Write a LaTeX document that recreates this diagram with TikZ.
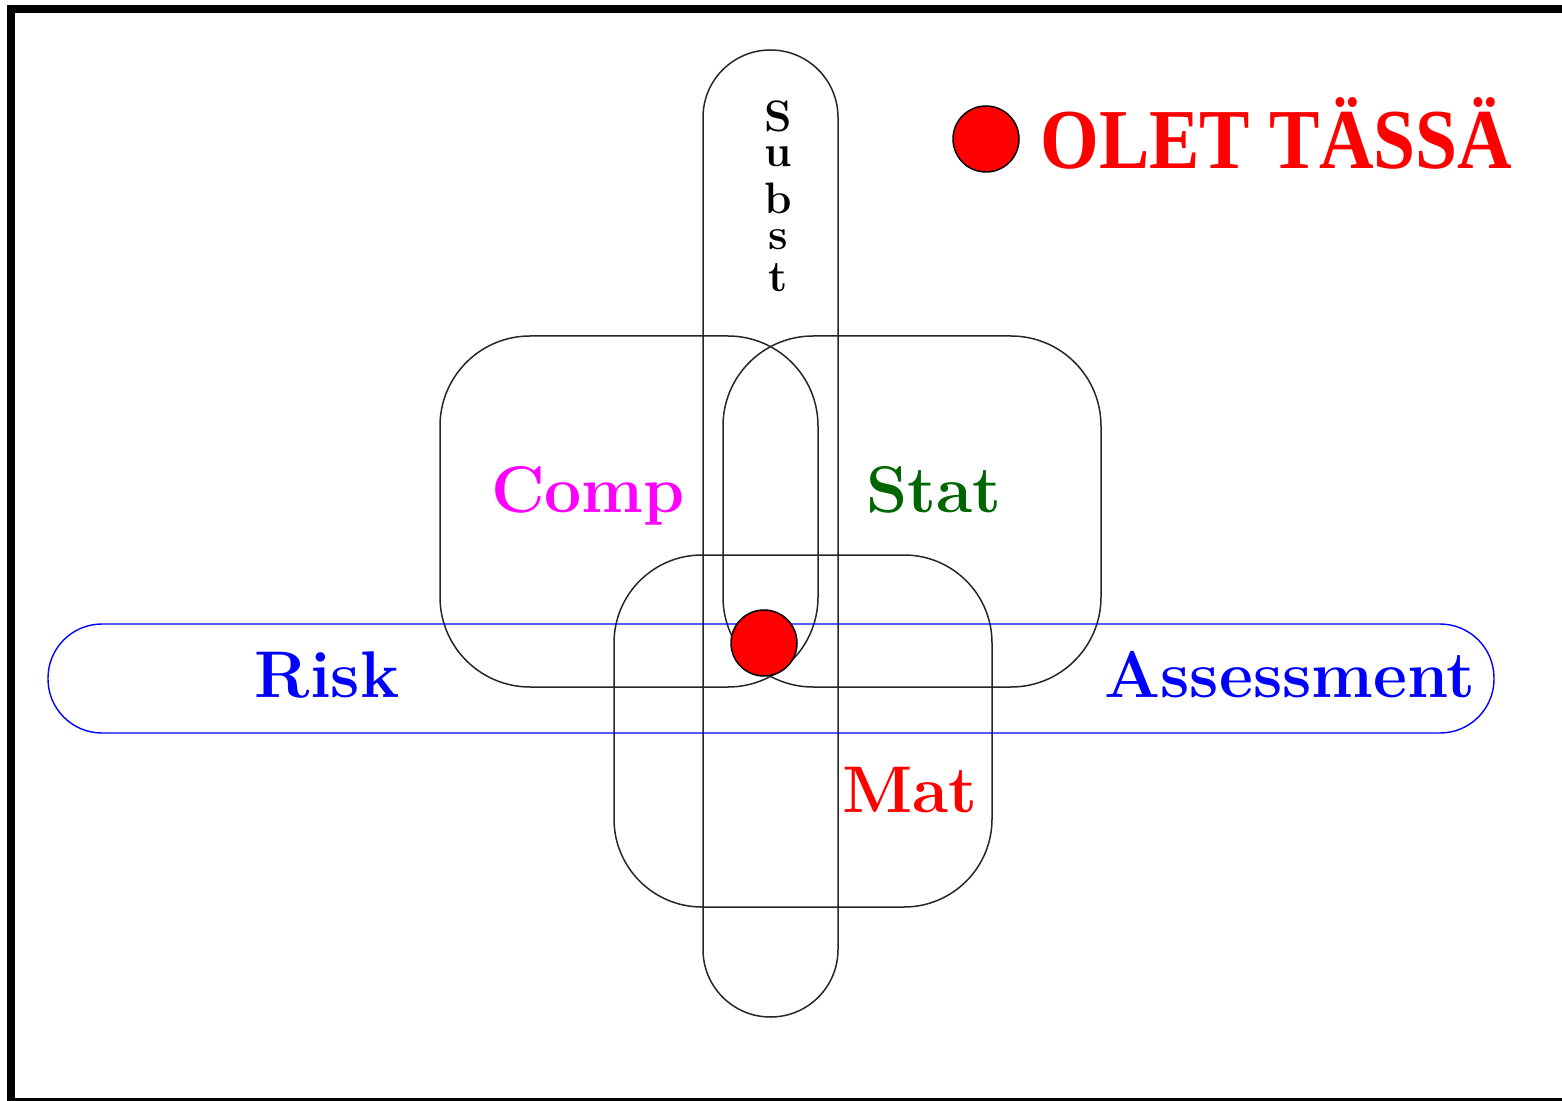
\documentclass[tikz,border=0pt]{standalone}
\usepackage{fontspec}
\newfontfamily\stencilfont{Liberation Serif}
\definecolor{statgreen}{rgb}{0,0.4,0}
\definecolor{compmagenta}{rgb}{1,0,1}
\definecolor{pureblue}{rgb}{0,0,1}
\definecolor{purered}{rgb}{1,0,0}
\begin{document}
\begin{tikzpicture}[x=0.5pt,y=-0.5pt,
  setbox/.style={draw=black!85,line width=0.75pt},
  riskbox/.style={draw=pureblue,line width=0.7pt,rounded corners=27pt},
  biglabel/.style={font=\fontsize{33}{39}\selectfont\bfseries,anchor=base,inner sep=0pt},
  substletter/.style={font=\fontsize{22}{26}\selectfont\bfseries,anchor=base,inner sep=0pt},
  reddot/.style={circle,draw=black,fill=purered,line width=0.75pt,minimum size=33pt,inner sep=0pt}]
\useasboundingbox (0,0) rectangle (1562,1101);
\clip (0,0) rectangle (1562,1101);
% frame
\draw[line width=4pt] (11,9) rectangle (1600,1102);
% sets
\draw[setbox,rounded corners=45pt] (440,336) rectangle (818,687);
\draw[setbox,rounded corners=45pt] (723,336) rectangle (1101,687);
\draw[setbox,rounded corners=44pt] (614,555) rectangle (992,907);
\draw[setbox,rounded corners=33.7pt] (703,50) rectangle (838,1017);
\draw[riskbox] (48,624) rectangle (1494,733);
% marker
\node[reddot] (here) at (764,643) {};
% labels
\node[biglabel,text=compmagenta] (comp) at (588,512) {Comp};
\node[biglabel,text=statgreen] (stat) at (934,512) {Stat};
\node[biglabel,text=purered] (mat) at (910,812) {Mat};
\node[biglabel,text=pureblue] (risk) at (327,697) {Risk};
\node[biglabel,text=pureblue] (assess) at (1290,697) {Assessment};
\node[substletter] (s1) at (778,132) {S};
\node[substletter] (s2) at (778,167) {u};
\node[substletter] (s3) at (778,214) {b};
\node[substletter] (s4) at (778,250) {s};
\node[substletter] (s5) at (778,292) {t};
% legend
\node[reddot] (legdot) at (986,139) {};
\node[anchor=base west,inner sep=0pt,text=purered] (legtext) at (1040,169)
  {\resizebox{236pt}{35.5pt}{\stencilfont\bfseries OLET TÄSSÄ}};
\end{tikzpicture}
\end{document}
